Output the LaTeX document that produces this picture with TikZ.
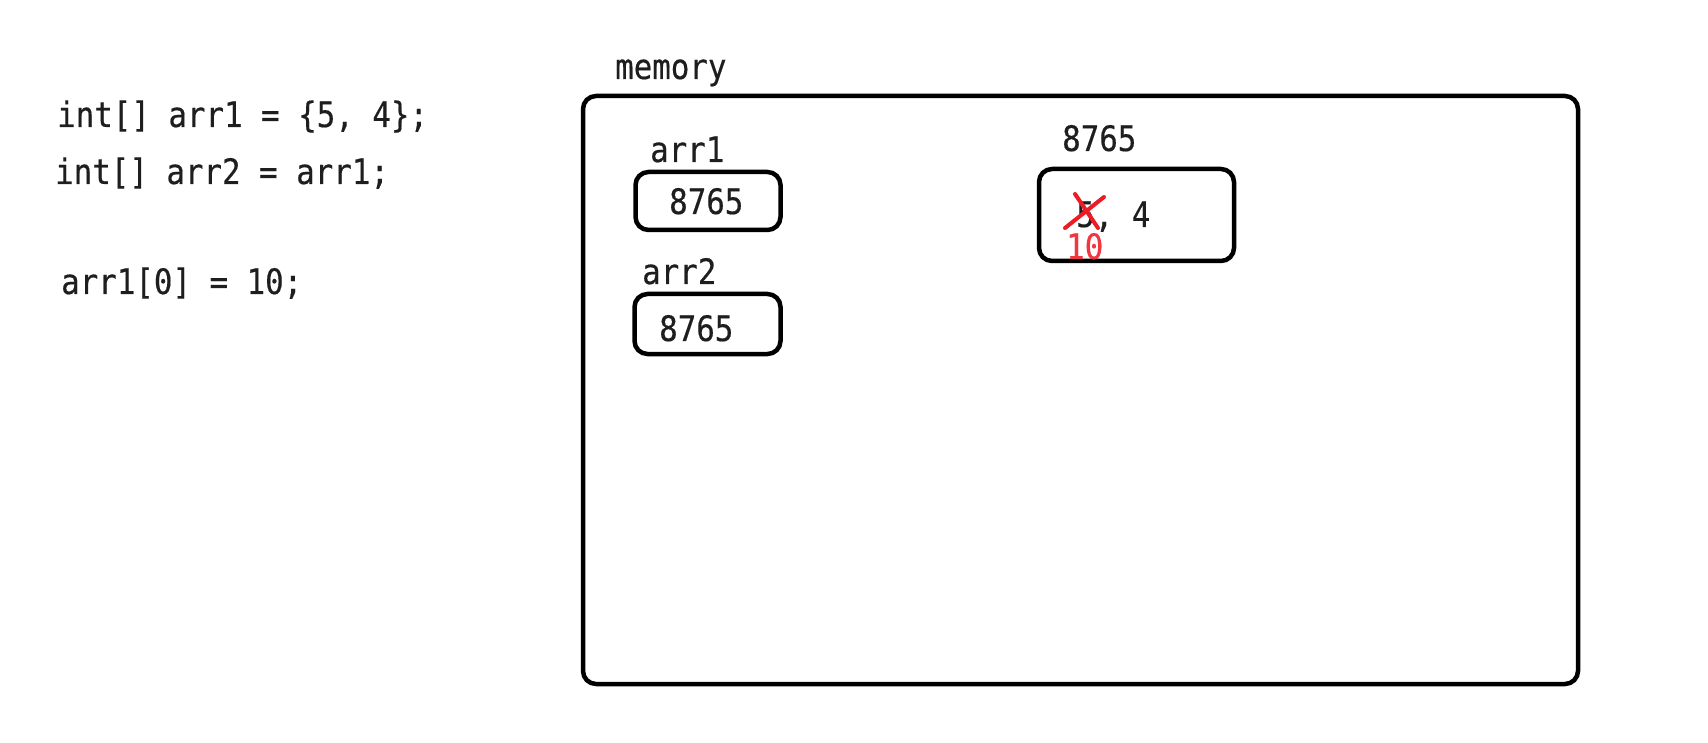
\documentclass[tikz,border=0pt]{standalone}
\usepackage{fontspec}
\setmonofont[FakeStretch=0.88,FakeBold=0.4]{DejaVu Sans Mono}
\definecolor{ink}{HTML}{1E1E1E}
\definecolor{xred}{HTML}{ED1C24}
\definecolor{nred}{HTML}{F0363F}
\begin{document}
\begin{tikzpicture}[x=1pt,y=-1pt,
  code/.style={anchor=base west,inner sep=0pt,text=ink,font=\ttfamily\fontsize{35}{41}\selectfont},
  membox/.style={draw=black,line width=4.5pt,rounded corners=13pt,inner sep=0pt},
  cross/.style={draw=xred,line width=4pt,line cap=round}]
\useasboundingbox[fill=white] (0,0) rectangle (1708,743);
% code on the left
\node[code] (l1) at (57,127) {int[] arr1 = \{5, 4\};};
\node[code] (l2) at (55,184) {int[] arr2 = arr1;};
\node[code] (l3) at (61,294) {arr1[0] = 10;};
% memory
\node[code] (memlbl) at (615,79) {memory};
\node[membox,minimum width=995pt,minimum height=588pt] (mem) at (1080.5,390) {};
% arr1
\node[code] (a1lbl) at (650,162) {arr1};
\node[membox,minimum width=145pt,minimum height=58pt] (a1box) at (708,201) {};
\node[code] (a1val) at (669,214) {8765};
% arr2
\node[code] (a2lbl) at (642,284) {arr2};
\node[membox,minimum width=146pt,minimum height=60pt] (a2box) at (707.5,324) {};
\node[code] (a2val) at (659,341) {8765};
% heap array
\node[code] (hlbl) at (1062,151) {8765};
\node[membox,minimum width=195pt,minimum height=92pt] (hbox) at (1136.5,215) {};
\node[code] (hval) at (1076,227) {5, 4};
\draw[cross] (1065,228) -- (1104,197);
\draw[cross] (1075,194) -- (1098,228);
\node[code,text=nred] (ten) at (1066,259) {10};
\end{tikzpicture}
\end{document}
